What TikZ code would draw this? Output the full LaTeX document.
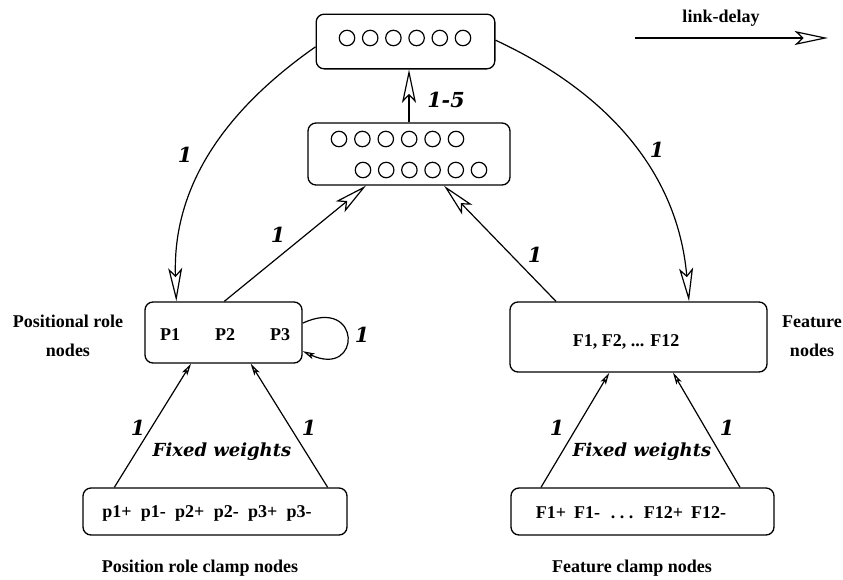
\documentclass[tikz,border=0pt]{standalone}
\usepackage{fontspec}
\setmainfont{Liberation Serif}
\newfontfamily\wtfont{DejaVu Serif}
\usetikzlibrary{arrows.meta}

\begin{document}
\begin{tikzpicture}[x=0.75pt, y=0.75pt,
    box/.style={draw, line width=1pt, rounded corners=6pt},
    lbl/.style={font=\fontsize{13.5}{22}\selectfont\bfseries},
    wt/.style={font=\fontsize{15.5}{17}\wtfont\bfseries\itshape},
    fixed/.style={font=\fontsize{13.5}{15}\wtfont\bfseries\itshape},
    big/.style={line width=0.9pt, -{Stealth[open, length=25pt, width=10.5pt, inset=5.5pt]}},
    small/.style={line width=0.9pt, -{Stealth[open, length=9pt, width=4.5pt, inset=2pt]}}]
    \useasboundingbox (0,0) rectangle (843,-579);
    \node[box, minimum width=134pt, minimum height=41pt] (top) at (405.5,-41.5) {};
    \node[box, minimum width=151.5pt, minimum height=46.5pt] (mid) at (409,-154) {};
    \node[box, minimum width=117.75pt, minimum height=45.75pt] (pos) at (223.5,-332.5) {};
    \node[box, minimum width=192.75pt, minimum height=52.5pt] (feat) at (638.5,-337) {};
    \node[box, minimum width=198pt, minimum height=35.25pt] (pclamp) at (215,-511.5) {};
    \node[box, minimum width=197.25pt, minimum height=35.25pt] (fclamp) at (642.5,-511.5) {};
    \foreach \i in {0,...,5} {
        \draw[line width=0.9pt] (347+23.2*\i,-38) circle (5.8pt);
        \draw[line width=0.9pt] (339+23.4*\i,-139) circle (5.8pt);
        \draw[line width=0.9pt] (363+23.2*\i,-170) circle (5.8pt);
    }
    \node[lbl] (p1) at (170,-335) {P1};
    \node[lbl] (p2) at (225,-335) {P2};
    \node[lbl] (p3) at (280,-335) {P3};
    \node[lbl] (flist) at (626,-342) {F1, F2, ... F12};
    \node[lbl] (ptext) at (207,-513) {p1+\hspace{7pt}p1-\hspace{7pt}p2+\hspace{7pt}p2-\hspace{7pt}p3+\hspace{7pt}p3-};
    \node[lbl] (ftext) at (631,-513) {F1+\hspace{6pt}F1-\hspace{8pt}.\ .\ .\hspace{8pt}F12+\hspace{6pt}F12-};
    \node[lbl, align=center] (posname) at (68,-336) {Positional role\\nodes};
    \node[lbl, align=center] (featname) at (812,-336) {Feature\\nodes};
    \node[lbl] (pclampname) at (200,-568) {Position role clamp nodes};
    \node[lbl] (fclampname) at (632,-568) {Feature clamp nodes};
    \node[lbl] (delayname) at (721,-18) {link-delay};
    \coordinate (delayA) at (635,-38);
    \coordinate (delayB) at (828,-38);
    \draw[big] (delayA) -- (delayB);
    \draw[big] (mid.north) -- (mid.north |- top.south);
    \draw[big] ([yshift=-4pt]top.west) to[out=215, in=92] ([xshift=24pt]pos.north west);
    \draw[big] ([yshift=1pt]top.east) to[out=-25, in=95] ([xshift=-59pt]feat.north east);
    \draw[big] ([xshift=60pt]pos.north west) -- ([xshift=44pt]mid.south west);
    \draw[big] ([xshift=35pt]feat.north west) -- ([xshift=-50pt]mid.south east);
    \draw[small] ([xshift=24pt]pclamp.north west) -- ([xshift=35pt]pos.south west);
    \draw[small] ([xshift=-15pt]pclamp.north east) -- ([xshift=-39pt]pos.south east);
    \draw[small] ([xshift=23pt]fclamp.north west) -- ([xshift=75pt]feat.south west);
    \draw[small] ([xshift=-26pt]fclamp.north east) -- ([xshift=-71pt]feat.south east);
    \draw[small] ([yshift=7pt]pos.east) to[out=25, in=-25, looseness=6] ([yshift=-14pt]pos.east);
    \node[wt] (w15) at (446,-100) {1-5};
    \node[wt] (wtp) at (185,-155) {1};
    \node[wt] (wtf) at (657,-150) {1};
    \node[wt] (wpm) at (278,-235) {1};
    \node[wt] (wfm) at (535,-255) {1};
    \node[wt] (wloop) at (362,-335) {1};
    \node[wt] (wpl) at (138,-428) {1};
    \node[wt] (wpr) at (309,-428) {1};
    \node[wt] (wfl) at (557,-428) {1};
    \node[wt] (wfr) at (727,-428) {1};
    \node[fixed] (fixp) at (222,-452) {Fixed weights};
    \node[fixed] (fixf) at (642,-452) {Fixed weights};
\end{tikzpicture}
\end{document}
